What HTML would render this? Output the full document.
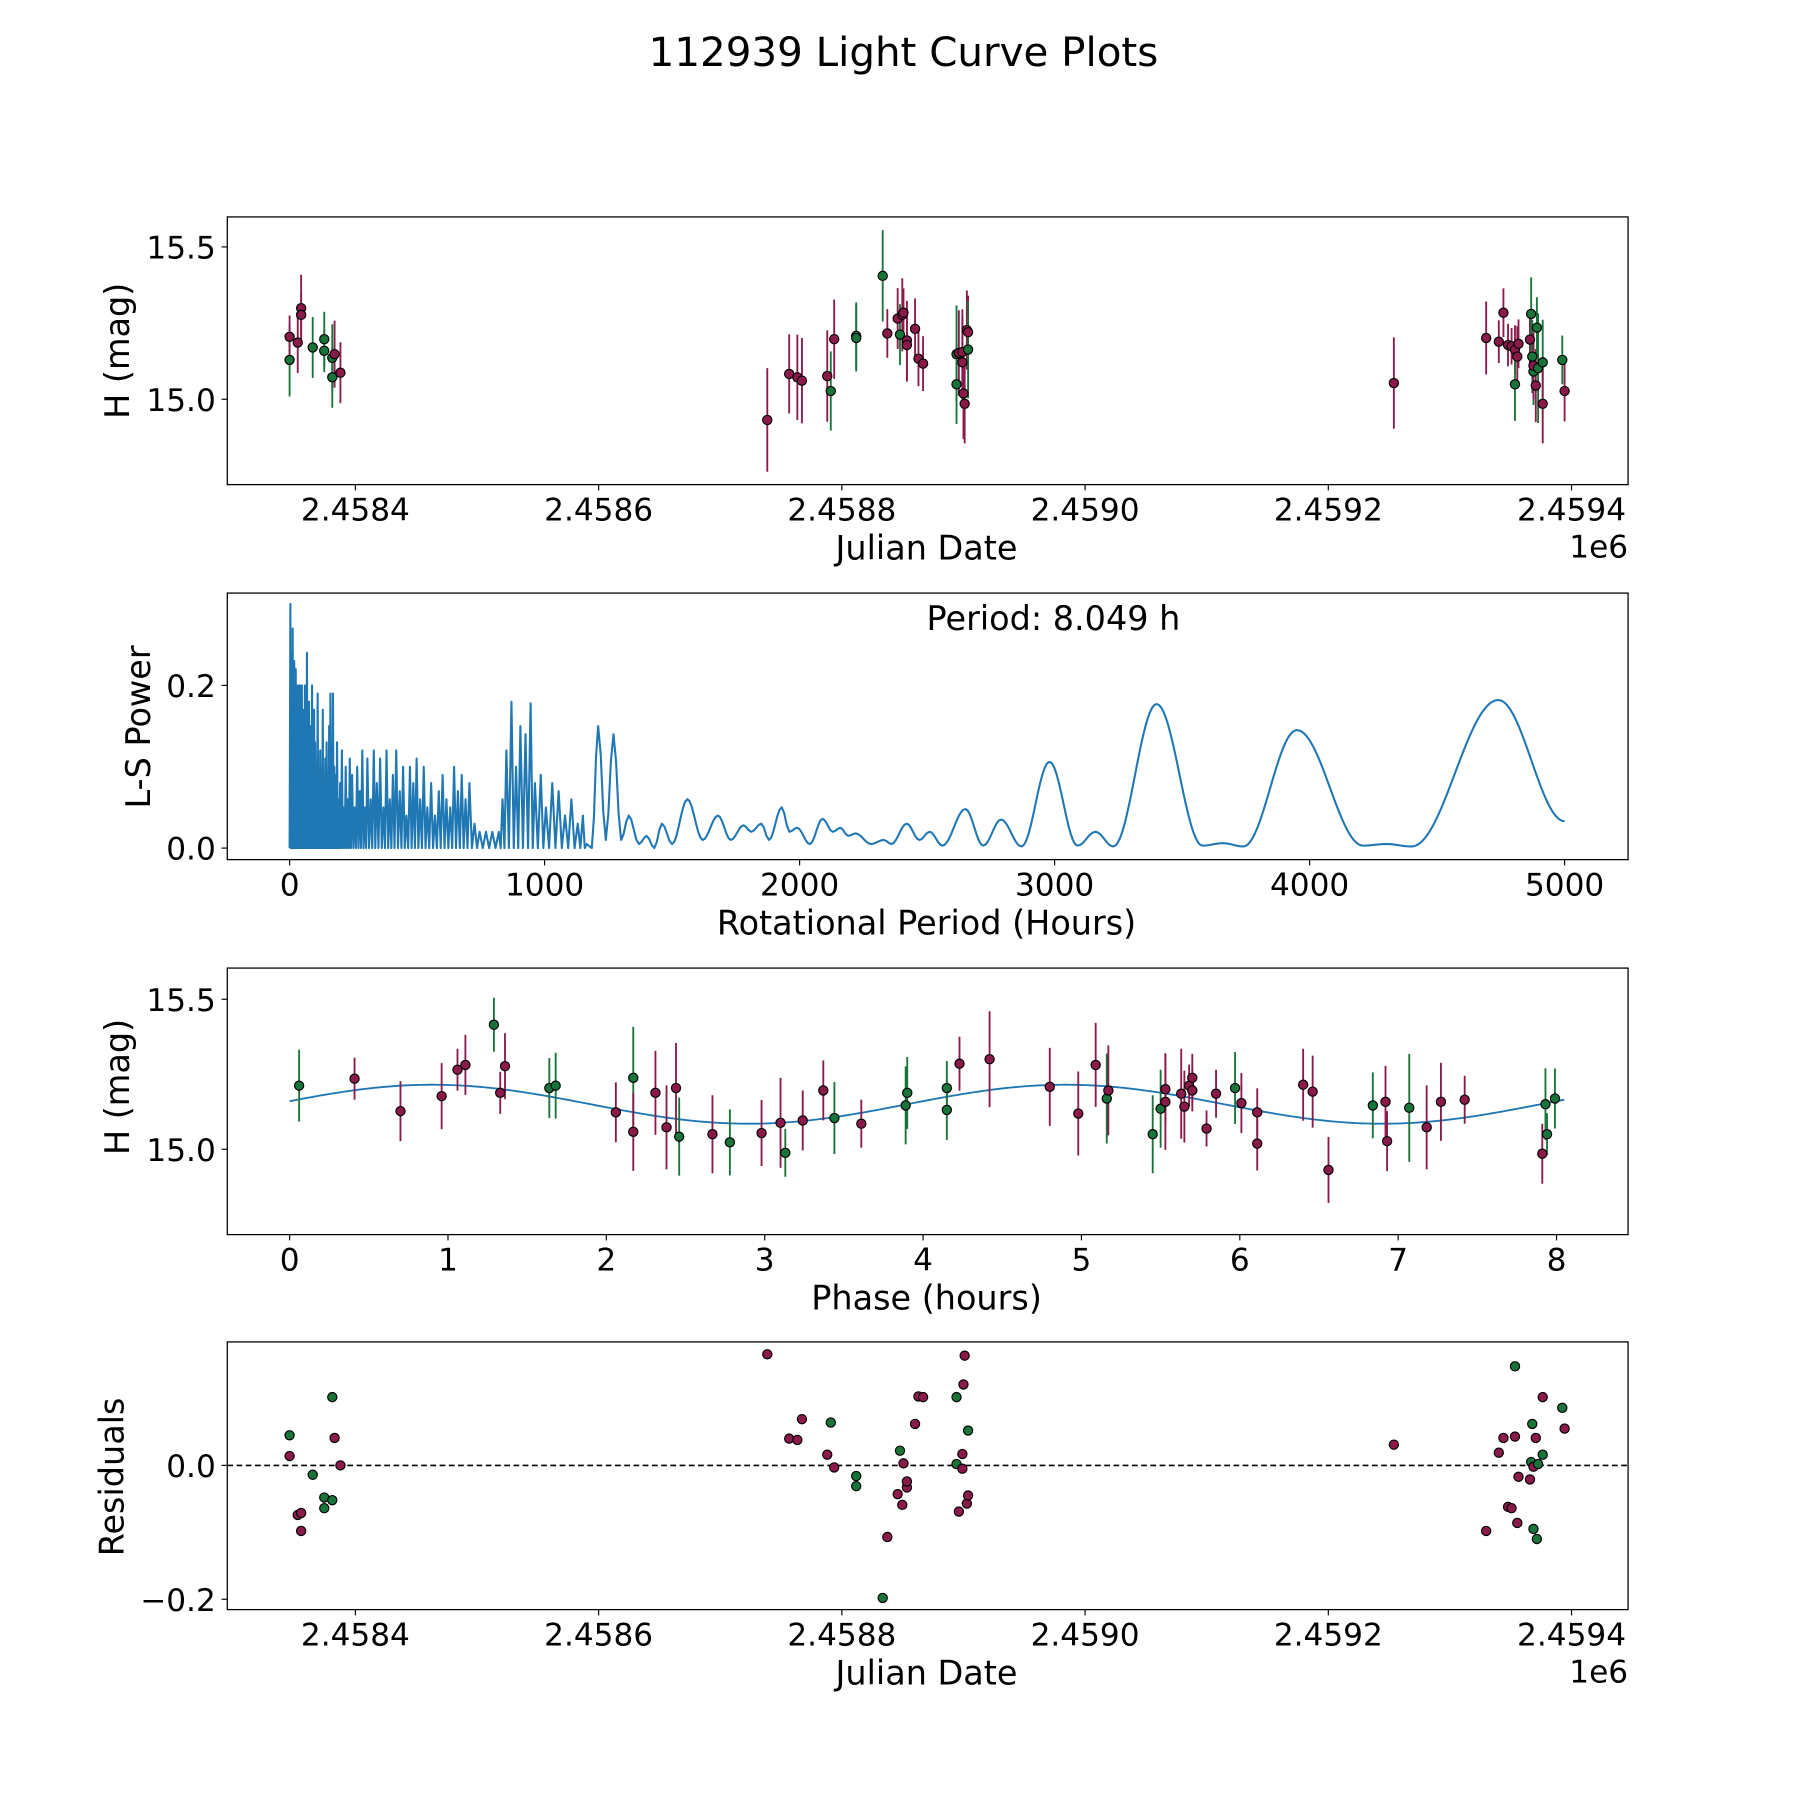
<!DOCTYPE html>
<html><head><meta charset="utf-8"><style>
html,body{margin:0;padding:0;background:#fff;overflow:hidden;}
svg{display:block;font-family:"DejaVu Sans","Liberation Sans",sans-serif;}
</style></head><body>
<svg id="fig" width="1800" height="1800" viewBox="0 0 1560 1560" xmlns="http://www.w3.org/2000/svg">
<rect width="1560" height="1560" fill="#fff"/>
<text x="783" y="57" font-size="35" text-anchor="middle">112939 Light Curve Plots</text>
</svg>
<script>
// ---- data ----
const obsDay = [-54.1,-54.1,-47.4,-44.6,-44.6,-35.1,-25.6,-25.6,-19.0,-19.0,-17.1,-12.3,
338.7,356.7,363.4,367.2,388.0,390.9,393.7,411.8,411.8,433.6,437.4,445.9,447.8,449.7,450.7,453.5,453.5,460.2,463.0,466.8,494.3,494.3,496.2,499.1,499.1,500.0,501.0,502.8,503.8,503.8,
853.9,929.8,940.2,944.0,947.8,950.7,953.5,953.5,955.4,956.4,965.8,966.8,967.7,968.7,968.7,970.6,971.5,972.5,976.3,976.3,992.4,994.3];
const obsMag = [15.129,15.205,15.186,15.299,15.277,15.170,15.197,15.159,15.136,15.072,15.148,15.087,
14.932,15.083,15.072,15.061,15.076,15.027,15.197,15.208,15.201,15.405,15.216,15.265,15.212,15.277,15.284,15.193,15.178,15.231,15.133,15.117,15.148,15.049,15.152,15.155,15.121,15.019,14.985,15.227,15.220,15.163,
15.053,15.201,15.189,15.284,15.178,15.174,15.163,15.049,15.140,15.182,15.196,15.280,15.140,15.091,15.110,15.045,15.235,15.102,15.121,14.985,15.129,15.027];
const obsErr = [0.12,0.07,0.1,0.11,0.07,0.1,0.09,0.07,0.11,0.1,0.11,0.1,
0.17,0.13,0.14,0.14,0.15,0.13,0.13,0.11,0.11,0.15,0.08,0.1,0.1,0.12,0.08,0.13,0.12,0.1,0.09,0.09,0.16,0.13,0.14,0.14,0.15,0.15,0.13,0.13,0.12,0.16,
0.15,0.12,0.07,0.08,0.07,0.06,0.08,0.12,0.1,0.08,0.09,0.12,0.12,0.11,0.11,0.12,0.1,0.18,0.14,0.13,0.08,0.1];
const obsBand = "gmmmmgggggmm mmmmmgmgggmmgmmmmmmmggmmmmmmmg mmmmmmmgmmmgggmmgggmgmm".replace(/ /g,'');
const resid = [0.045,0.014,-0.074,-0.071,-0.098,-0.014,-0.048,-0.064,-0.052,0.102,0.041,0.0,
0.166,0.040,0.038,0.069,0.016,0.064,-0.003,-0.016,-0.031,-0.198,-0.107,-0.043,0.022,-0.059,0.003,-0.033,-0.024,0.062,0.103,0.102,0.102,0.002,-0.069,0.017,-0.005,0.121,0.164,-0.057,-0.045,0.052,
0.031,-0.098,0.019,0.041,-0.062,-0.064,0.043,0.148,-0.086,-0.017,-0.021,0.005,0.062,-0.095,-0.002,0.041,-0.110,0.002,0.016,0.102,0.086,0.055];
const phase = [0.06,0.41,0.70,0.96,1.06,1.11,1.29,1.33,1.36,1.64,1.68,2.06,2.17,2.17,2.31,2.38,2.44,2.46,2.67,2.78,2.98,3.10,3.13,3.24,3.37,3.44,3.61,3.89,3.90,4.15,4.15,4.23,4.42,4.80,4.98,5.09,5.16,5.17,5.45,5.50,5.53,5.53,5.63,5.65,5.68,5.70,5.70,5.79,5.85,5.97,6.01,6.11,6.11,6.40,6.46,6.56,6.84,6.92,6.93,7.07,7.18,7.27,7.42,7.91,7.93,7.94,7.99];
const phaseMag = [15.212,15.235,15.127,15.177,15.265,15.281,15.415,15.188,15.277,15.204,15.212,15.123,15.238,15.058,15.188,15.073,15.204,15.042,15.05,15.023,15.054,15.088,14.988,15.096,15.196,15.104,15.085,15.146,15.188,15.131,15.204,15.285,15.30,15.208,15.119,15.281,15.169,15.196,15.05,15.135,15.20,15.158,15.185,15.142,15.212,15.238,15.196,15.069,15.185,15.204,15.154,15.123,15.019,15.215,15.192,14.931,15.146,15.158,15.027,15.138,15.073,15.158,15.165,14.985,15.150,15.05,15.169];
const phaseBand = "gmmmmmgmmggmgmmmmgmgmmgmmgmggggmmmmmgmggmmmmmmmmmgmmmmmmgmmgmmmmggg";
const fitParams = {mean:15.15, amp:0.065, period:4.0, peak:0.9};
const lsPeaksLeft = [[3,0.30],[6,0.24],[9,0.22],[12,0.27],[15,0.2],[18,0.23],[21,0.2],[24,0.22],[28,0.19],[32,0.2],[36,0.18],[40,0.2],[44,0.15],[48,0.2],[52,0.17],[56,0.14],[60,0.2],[64,0.13],[68,0.24],[72,0.12],[76,0.18],[80,0.15],[84,0.11],[88,0.2],[92,0.1],[96,0.17],[100,0.13],[105,0.09],[110,0.19],[115,0.08],[120,0.12],[125,0.1],[130,0.17],[135,0.07],[140,0.11],[145,0.13],[150,0.06],[155,0.15],[160,0.19],[165,0.08],[170,0.19],[175,0.1],[180,0.09],[186,0.13],[192,0.06],[198,0.08],[205,0.12],[212,0.05],[220,0.1],[228,0.06],[236,0.11],[245,0.09],[255,0.05],[265,0.1],[275,0.07],[285,0.12],[295,0.05],[305,0.11],[318,0.06],[330,0.12],[342,0.08],[355,0.11],[368,0.05],[380,0.12],[393,0.06],[405,0.09],[418,0.12],[432,0.07],[445,0.1],[458,0.04],[472,0.1],[485,0.08],[498,0.11],[512,0.06],[526,0.1],[540,0.05],[555,0.08],[570,0.04],[585,0.07],[600,0.09],[615,0.06],[630,0.05],[645,0.1],[660,0.07],[675,0.09],[690,0.06],[705,0.08],[725,0.03],[745,0.02],[770,0.02],[795,0.02],[820,0.02],[835,0.06],[850,0.12],[870,0.18],[888,0.1],[905,0.15],[925,0.14],[945,0.178],[962,0.08],[985,0.09],[1005,0.05],[1030,0.08],[1055,0.07],[1080,0.04],[1105,0.06],[1130,0.03],[1150,0.04]];
const lsCurveRight = [[1165,0.005],[1185,0.0],[1210,0.15],[1240,0.01],[1270,0.14],[1300,0.01],[1330,0.04],[1370,0.005],[1400,0.015],[1430,0.0],[1460,0.03],[1500,0.005],[1560,0.06],[1620,0.01],[1680,0.04],[1730,0.01],[1780,0.028],[1810,0.02],[1850,0.03],[1880,0.01],[1930,0.05],[1960,0.02],[1990,0.025],[2040,0.005],[2090,0.036],[2130,0.02],[2160,0.025],[2190,0.015],[2220,0.018],[2280,0.005],[2330,0.01],[2360,0.005],[2420,0.03],[2470,0.01],[2510,0.02],[2560,0.003],[2650,0.048],[2720,0.003],[2790,0.035],[2870,0.002],[2980,0.106],[3090,0.003],[3160,0.02],[3230,0.002],[3400,0.177],[3580,0.003],[3660,0.006],[3740,0.002],[3950,0.145],[4210,0.003],[4300,0.005],[4400,0.002],[4740,0.182],[5000,0.033]];
const jdTicks = [2458400,2458600,2458800,2459000,2459200,2459400];
const jdTickLabels = ["2.4584","2.4586","2.4588","2.4590","2.4592","2.4594"];
const magTicks = [15.0,15.5];
const magTickLabels = ["15.0","15.5"];
const lsXTicks = [0,1000,2000,3000,4000,5000];
const lsYTicks = [0.0,0.2];
const phaseTicks = [0,1,2,3,4,5,6,7,8];
const residTicks = [-0.2,0.0];
const residTickLabels = ["\u22120.2","0.0"];

// ---- helpers ----
const NS="http://www.w3.org/2000/svg";
const svg=document.getElementById('fig');
const COL={m:'#8b1a4b',g:'#19743a'};
const TF=27, LF=29;
function el(tag,attrs,parent){const e=document.createElementNS(NS,tag);for(const k in attrs)e.setAttribute(k,attrs[k]);(parent||svg).appendChild(e);return e;}
function lin(d0,d1,p0,p1){return v=>p0+(v-d0)*(p1-p0)/(d1-d0);}
const L=197,R=1411;
const xJD=lin(2458400,2459400,308,1362);
function frame(g,top,bot){const r=el('rect',{x:L,y:top,width:R-L,height:bot-top,fill:'none',stroke:'#000','stroke-width':1.1},g);}
function xTicks(g,vals,labels,sx,bot){vals.forEach((v,i)=>{const x=sx(v);const t=el('line',{x1:x,x2:x,y1:bot,y2:bot+5,stroke:'#000'},g);const tx=el('text',{x:x,y:bot+31,'font-size':TF,'text-anchor':'middle'},g);tx.textContent=labels[i];});}
function yTicks(g,vals,labels,sy){vals.forEach((v,i)=>{const y=sy(v);const t=el('line',{x1:L,x2:L-5,y1:y,y2:y,stroke:'#000'},g);const tx=el('text',{x:L-10,y:y+10,'font-size':TF,'text-anchor':'end'},g);tx.textContent=labels[i];});}
function label(g,txt,x,y,rot,name){const t=el('text',{x:x,y:y,'font-size':LF,'text-anchor':'middle',transform:rot?`rotate(-90 ${x} ${y})`:''},g);t.textContent=txt;}
function panel(name){const g=el('g',{});return g;}
function errPoints(g,xs,ys,errs,bands,sx,sy){
  xs.forEach((v,i)=>{const x=sx(v);const c=COL[bands[i]]||COL.m;
    if(errs){const b=el('line',{x1:x,x2:x,y1:sy(ys[i]-errs[i]),y2:sy(ys[i]+errs[i]),stroke:c,'stroke-width':1.6},g);}
  });
  xs.forEach((v,i)=>{const c=COL[bands[i]]||COL.m;const p=el('ellipse',{cx:sx(v),cy:sy(ys[i]),rx:4,ry:4,fill:c,stroke:'#000','stroke-width':1},g);});
}

// ---- panel 1: light curve ----
{const g=panel('light-curve-panel');const top=188,bot=420;
 const sy=lin(15.0,15.5,346,214);
 frame(g,top,bot);
 errPoints(g,obsDay.map(d=>2458400+d),obsMag,obsErr,obsBand,xJD,sy);
 xTicks(g,jdTicks,jdTickLabels,xJD,bot);yTicks(g,magTicks,magTickLabels,sy);
 const o=el('text',{x:R,y:bot+63,'font-size':TF,'text-anchor':'end'},g);o.textContent='1e6';
 label(g,'Julian Date',803,bot+65,false,'x-axis-title');label(g,'H (mag)',112,304,true,'y-axis-title');}

// ---- panel 2: periodogram ----
{const g=panel('periodogram-panel');const top=514,bot=745;
 const sx=lin(0,5000,251,1356),sy=lin(0,0.2,735,594);
 frame(g,top,bot);
 const pts=[[0,0]];lsPeaksLeft.forEach((p,i)=>{pts.push(p);const nx=i+1<lsPeaksLeft.length?lsPeaksLeft[i+1][0]:1165;pts.push([(p[0]+nx)/2,0]);});
 lsCurveRight.forEach(p=>pts.push(p));
 let d=`M${sx(pts[0][0])},${sy(pts[0][1])}`;
 for(let i=1;i<pts.length;i++){const a=pts[i-1],b=pts[i];const n=Math.max(2,Math.round((sx(b[0])-sx(a[0]))/2));
  for(let k=1;k<=n;k++){const t=k/n;const s=(1-Math.cos(Math.PI*t))/2;d+=`L${sx(a[0]+(b[0]-a[0])*t).toFixed(2)},${sy(a[1]+(b[1]-a[1])*s).toFixed(2)}`;}}
 const p=el('path',{d:d,fill:'none',stroke:'#1f77b4','stroke-width':1.8,'stroke-linejoin':'round'},g);
 xTicks(g,lsXTicks,lsXTicks.map(String),sx,bot);yTicks(g,lsYTicks,["0.0","0.2"],sy);
 const pl=el('text',{x:913,y:546,'font-size':LF,'text-anchor':'middle'},g);pl.textContent='Period: 8.049 h';
 label(g,'Rotational Period (Hours)',803,bot+65,false,'x-axis-title');label(g,'L-S Power',130,630,true,'y-axis-title');}

// ---- panel 3: phased ----
{const g=panel('phased-curve-panel');const top=839,bot=1070;
 const sx=lin(0,8,251,1349),sy=lin(15.0,15.5,996,866);
 frame(g,top,bot);
 let d='';for(let i=0;i<=400;i++){const ph=8.049*i/400;const m=fitParams.mean+fitParams.amp*Math.cos(2*Math.PI*(ph-fitParams.peak)/fitParams.period);d+=(i?'L':'M')+sx(ph).toFixed(2)+','+sy(m).toFixed(2);}
 const f=el('path',{d:d,fill:'none',stroke:'#1f77b4','stroke-width':1.6},g);
 const errs=phaseMag.map((m,i)=>obsErr[i%obsErr.length]);
 errPoints(g,phase,phaseMag,errs,phaseBand,sx,sy);
 xTicks(g,phaseTicks,phaseTicks.map(String),sx,bot);yTicks(g,magTicks,magTickLabels,sy);
 label(g,'Phase (hours)',803,bot+65,false,'x-axis-title');label(g,'H (mag)',112,942,true,'y-axis-title');}

// ---- panel 4: residuals ----
{const g=panel('residuals-panel');const top=1163,bot=1395;
 const sy=lin(0,-0.2,1270,1386);
 frame(g,top,bot);
 const z=el('line',{x1:L,x2:R,y1:sy(0),y2:sy(0),stroke:'#000','stroke-width':1.4,'stroke-dasharray':'5,3'},g);
 errPoints(g,obsDay.map(d=>2458400+d),resid,null,obsBand,xJD,sy);
 xTicks(g,jdTicks,jdTickLabels,xJD,bot);yTicks(g,residTicks,residTickLabels,sy);
 const o=el('text',{x:R,y:bot+63,'font-size':TF,'text-anchor':'end'},g);o.textContent='1e6';
 label(g,'Julian Date',803,bot+65,false,'x-axis-title');label(g,'Residuals',107,1280,true,'y-axis-title');}
</script>
</body></html>
